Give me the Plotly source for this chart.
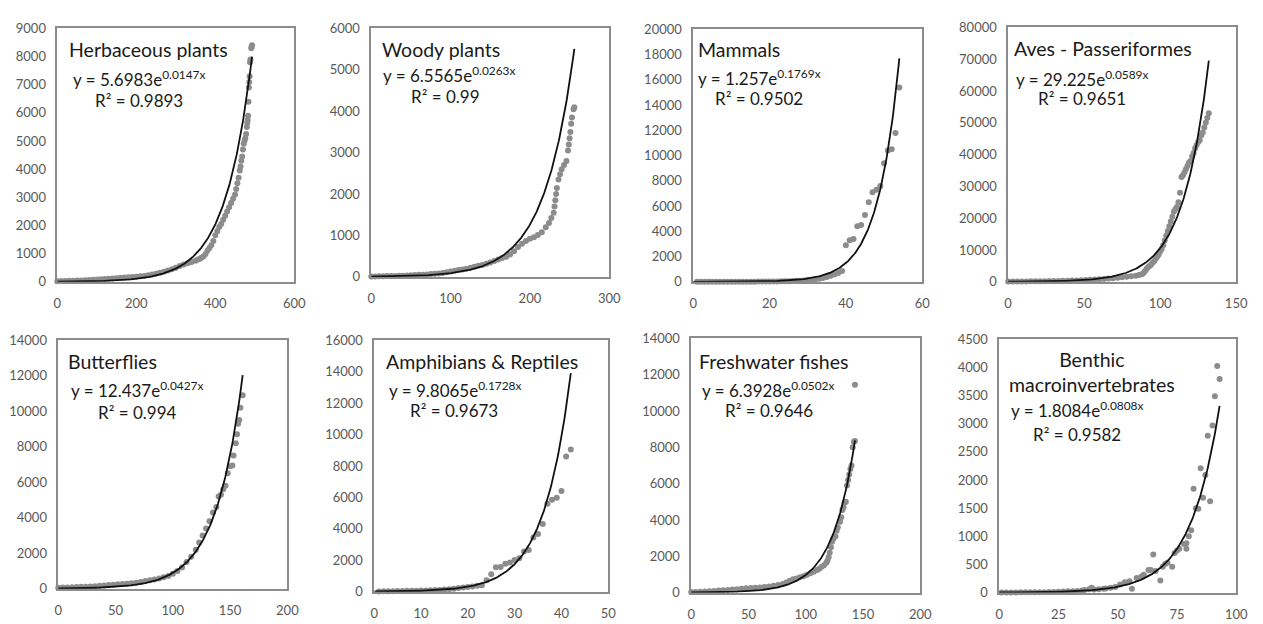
import numpy as np
import plotly.graph_objects as go

W, H = 1263, 624

# ---------------- data ----------------
titles = ["Herbaceous plants", "Woody plants", "Mammals", "Aves - Passeriformes",
          "Butterflies", "Amphibians & Reptiles", "Freshwater fishes", "Benthic<br>macroinvertebrates"]
coef_a = [5.6983, 6.5565, 1.257, 29.225, 12.437, 9.8065, 6.3928, 1.8084]
coef_a_txt = ["5.6983", "6.5565", "1.257", "29.225", "12.437", "9.8065", "6.3928", "1.8084"]
coef_b = [0.0147, 0.0263, 0.1769, 0.0589, 0.0427, 0.1728, 0.0502, 0.0808]
coef_b_txt = ["0.0147", "0.0263", "0.1769", "0.0589", "0.0427", "0.1728", "0.0502", "0.0808"]
r2_txt = ["0.9893", "0.99", "0.9502", "0.9651", "0.994", "0.9673", "0.9646", "0.9582"]
fit_xmax = [493, 256, 54, 132, 161, 42, 143, 93]
x_max = [600, 300, 60, 150, 200, 50, 200, 100]
x_dtick = [200, 100, 20, 50, 50, 10, 50, 25]
y_max = [9000, 6000, 20000, 80000, 14000, 16000, 14000, 4500]
y_dtick = [1000, 1000, 2000, 10000, 2000, 2000, 2000, 500]

herb_x = [0, 10, 20, 30, 40, 50, 60, 70, 80, 90, 100, 110, 120, 130, 140, 150, 160, 170, 180, 190,
          200, 210, 220, 230, 240, 250, 260, 270, 280, 290, 300, 310, 320, 330, 340, 350, 355, 360,
          365, 370, 375, 380, 385, 390, 395, 400, 405, 410, 415, 420, 425, 430, 435, 440, 445, 450,
          453, 456, 459, 462, 464, 466, 468, 470, 472, 474, 476, 478, 480, 481, 482, 483, 484, 485,
          486, 487, 488, 489, 491, 492, 493]
herb_y = [20, 25, 30, 35, 40, 45, 50, 55, 60, 70, 80, 90, 100, 110, 120, 130, 140, 150, 160, 170,
          180, 195, 210, 230, 260, 290, 320, 360, 400, 450, 500, 560, 610, 660, 700, 750, 780, 810,
          850, 900, 980, 1100, 1200, 1300, 1450, 1650, 1800, 1950, 2050, 2200, 2350, 2500, 2650,
          2800, 2950, 3100, 3300, 3500, 3700, 3950, 4100, 4300, 4450, 4700, 4900, 5000, 5100, 5250,
          5500, 5650, 5750, 5900, 6400, 6900, 7100, 7300, 7800, 7900, 8300, 8350, 8400]

woody_x = [0, 5, 10, 15, 20, 25, 30, 35, 40, 45, 50, 55, 60, 65, 70, 75, 80, 85, 90, 95, 100, 105,
           110, 115, 120, 125, 130, 135, 140, 145, 150, 155, 160, 165, 170, 175, 180, 185, 190, 195,
           200, 205, 210, 215, 220, 224, 227, 230, 231, 232, 233, 234, 236, 238, 240, 243, 246, 248,
           249, 250, 251, 252, 253, 255, 256]
woody_y = [10, 12, 15, 17, 20, 22, 25, 28, 30, 35, 40, 45, 50, 55, 60, 68, 75, 85, 95, 110, 130, 148,
           165, 182, 200, 222, 245, 268, 290, 320, 350, 385, 420, 455, 490, 540, 620, 720, 800, 870,
           920, 960, 1010, 1080, 1200, 1300, 1420, 1550, 1700, 1850, 2000, 2150, 2350, 2480, 2600,
           2700, 2800, 3050, 3200, 3350, 3500, 3700, 3850, 4050, 4100]

mam_x = list(range(1, 55))
mam_y = [1, 1, 1, 2, 2, 3, 3, 4, 4, 5, 6, 7, 8, 9, 10, 12, 14, 16, 19, 22, 26, 30, 36, 42, 50, 60,
         75, 90, 110, 140, 170, 200, 250, 300, 380, 470, 580, 700, 850, 2900, 3300, 3400, 4400,
         4500, 5300, 6300, 7100, 7300, 7600, 9400, 10400, 10500, 11800, 15400]

aves_x = [0, 3, 6, 9, 12, 15, 18, 21, 24, 27, 30, 33, 36, 39, 42, 45, 48, 51, 54, 57, 60, 63, 66,
          69, 72, 75, 78, 81, 84, 86, 88, 89, 90, 91, 92, 93, 94, 95, 96, 97, 98, 99, 100, 101,
          102, 103, 104, 105, 106, 107, 108, 109, 110, 111, 112, 113, 114, 115, 116, 117, 118, 119,
          120, 121, 122, 123, 124, 125, 126, 127, 128, 129, 130, 131, 132]
aves_y = [80, 90, 100, 110, 120, 140, 160, 180, 200, 220, 250, 280, 310, 350, 390, 440, 490, 550,
          620, 700, 800, 900, 1000, 1150, 1300, 1450, 1600, 1750, 1900, 2100, 2400, 2800, 3300,
          4000, 4600, 5000, 5400, 6000, 6500, 7200, 7900, 8500, 9500, 10300, 11500, 13000, 14500,
          16000, 17500, 19000, 20500, 22000, 22800, 23500, 25000, 28000, 33000, 33500, 34500,
          35500, 36500, 37500, 38000, 39500, 40500, 42000, 43000, 44000, 44500, 46000, 47000,
          48500, 50000, 51500, 53000]

but_x = [0, 4, 8, 12, 16, 20, 24, 28, 32, 36, 40, 44, 48, 52, 56, 60, 64, 68, 72, 76, 80, 84, 88,
         92, 96, 100, 104, 108, 112, 116, 120, 123, 126, 129, 132, 135, 138, 140, 142, 144, 146,
         148, 150, 152, 153, 155, 156, 157, 158, 159, 161]
but_y = [60, 65, 75, 85, 95, 105, 115, 130, 145, 165, 185, 205, 225, 245, 265, 285, 310, 340, 380,
         430, 480, 520, 580, 640, 720, 850, 1000, 1200, 1500, 1800, 2200, 2600, 3000, 3400, 3800,
         4300, 4600, 5200, 5300, 5600, 5800, 6500, 6900, 6950, 7500, 8200, 8700, 9300, 9500,
         10200, 10900]

amph_x = list(range(1, 43))
amph_y = [15, 20, 25, 30, 35, 40, 50, 55, 60, 70, 80, 90, 100, 110, 130, 150, 180, 230, 270, 300,
          330, 380, 400, 720, 1100, 1550, 1570, 1780, 1860, 2020, 2120, 2550, 2650, 3450, 3670,
          4300, 5600, 5850, 5980, 6400, 8600, 9050]

fish_x = [0, 4, 8, 12, 16, 20, 24, 28, 32, 36, 40, 44, 48, 52, 56, 60, 64, 68, 72, 76, 80, 83, 86,
          89, 92, 95, 98, 101, 104, 107, 110, 112, 114, 116, 118, 119, 120, 121, 122, 123, 124,
          126, 127, 128, 130, 131, 132, 133, 134, 135, 136, 137, 138, 139, 140, 141, 142, 143, 143]
fish_y = [30, 40, 50, 65, 80, 95, 110, 130, 150, 170, 190, 210, 235, 250, 265, 285, 310, 340, 380,
          420, 480, 560, 660, 730, 780, 840, 900, 980, 1060, 1150, 1250, 1320, 1420, 1500, 1650,
          1750, 1950, 2200, 2500, 2800, 2950, 3100, 3400, 3600, 3900, 4150, 4550, 4700, 4950,
          5000, 5900, 6200, 6500, 6800, 7000, 8000, 8300, 8350, 11450]

ben_x = [1, 3, 5, 7, 9, 11, 13, 15, 17, 19, 21, 23, 25, 27, 29, 31, 33, 35, 36, 38, 39, 40, 42, 44,
         45, 47, 49, 51, 53, 55, 56, 58, 60, 61, 63, 64, 65, 66, 68, 69, 70, 71, 73, 74, 75, 76,
         78, 79, 79, 80, 81, 82, 83, 84, 85, 86, 87, 88, 89, 90, 91, 92, 93]
ben_y = [2, 3, 3, 4, 5, 5, 6, 6, 7, 8, 10, 12, 14, 18, 22, 26, 30, 36, 46, 60, 87, 55, 58, 69, 75,
         87, 98, 144, 185, 200, 69, 260, 288, 317, 403, 403, 675, 385, 213, 460, 508, 530, 460,
         705, 750, 780, 865, 780, 877, 1000, 1107, 1845, 1500, 1490, 2210, 1685, 2090, 2785, 1625,
         2970, 3490, 4025, 3795]

xs = [herb_x, woody_x, mam_x, aves_x, but_x, amph_x, fish_x, ben_x]
ys = [herb_y, woody_y, mam_y, aves_y, but_y, amph_y, fish_y, ben_y]

# ---------------- layout geometry (pixels) ----------------
frames = [(54, 294, 21, 281), (372, 613, 21, 276), (698, 930, 22, 281), (1017, 1248, 20, 281),
          (55, 287, 341, 596), (375, 612, 341, 599), (696, 928, 339, 600), (1008, 1248, 340, 600)]
title_pos = [(64, 43), (381, 43), (701, 43), (1021, 42), (63, 363), (385, 363), (702, 363), (1102, 374)]
eq_pos = [(68, 72), (382, 68), (701, 71), (1023, 72), (66, 392), (388, 392), (705, 392), (1018, 412)]
r2_pos = [(90, 95), (410, 91), (718, 93), (1045, 93), (93, 415), (409, 413), (728, 413), (1040, 438)]

FONT = "Lato"
PT_COLOR = "#8c8c8c"
FRAME_COLOR = "#8c8c8c"
TICK_COLOR = "#595959"
TXT_COLOR = "#1a1a1a"


def px(x):
    return x / W


def py(y):
    return 1 - y / H


fig = go.Figure()
annotations = []
layout_axes = {}

for i in range(8):
    n = i + 1
    xa = "x" if n == 1 else f"x{n}"
    ya = "y" if n == 1 else f"y{n}"
    l, r, t, b = frames[i]

    fig.add_trace(go.Scatter(x=xs[i], y=ys[i], mode="markers", xaxis=xa, yaxis=ya,
                             marker=dict(color=PT_COLOR, size=6, line=dict(width=0)),
                             cliponaxis=False, showlegend=False, hoverinfo="x+y"))
    xf = np.linspace(0, fit_xmax[i], 300)
    yf = coef_a[i] * np.exp(coef_b[i] * xf)
    fig.add_trace(go.Scatter(x=xf, y=yf, mode="lines", xaxis=xa, yaxis=ya,
                             line=dict(color="#111111", width=1.8),
                             cliponaxis=False, showlegend=False, hoverinfo="skip"))

    kx = "xaxis" if n == 1 else f"xaxis{n}"
    ky = "yaxis" if n == 1 else f"yaxis{n}"
    layout_axes[kx] = dict(domain=[px(l), px(r)], anchor=ya, range=[0, x_max[i]],
                           dtick=x_dtick[i], tick0=0, showgrid=False, zeroline=False,
                           showline=True, mirror=True, linecolor=FRAME_COLOR, linewidth=1.5,
                           ticks="outside", ticklen=9, tickcolor="rgba(0,0,0,0)",
                           tickfont=dict(family=FONT, size=13, color=TICK_COLOR),
                           tickformat="d", fixedrange=True)
    layout_axes[ky] = dict(domain=[py(b), py(t)], anchor=xa, range=[0, y_max[i]],
                           dtick=y_dtick[i], tick0=0, showgrid=False, zeroline=False,
                           showline=True, mirror=True, linecolor=FRAME_COLOR, linewidth=1.5,
                           ticks="outside", ticklen=7, tickcolor="rgba(0,0,0,0)",
                           tickfont=dict(family=FONT, size=13, color=TICK_COLOR),
                           tickformat="d", fixedrange=True)

    tx, ty = title_pos[i]
    annotations.append(dict(x=px(tx), y=py(ty), xref="paper", yref="paper", text=titles[i],
                            showarrow=False, xanchor="center" if i == 7 else "left",
                            yanchor="middle", align="center",
                            font=dict(family=FONT, size=19.5, color=TXT_COLOR)))
    ex, ey = eq_pos[i]
    annotations.append(dict(x=px(ex), y=py(ey), xref="paper", yref="paper",
                            text=f"y = {coef_a_txt[i]}e<sup>{coef_b_txt[i]}x</sup>",
                            showarrow=False, xanchor="left", yanchor="middle",
                            font=dict(family=FONT, size=17, color=TXT_COLOR)))
    rx, ry = r2_pos[i]
    annotations.append(dict(x=px(rx), y=py(ry), xref="paper", yref="paper",
                            text=f"R² = {r2_txt[i]}",
                            showarrow=False, xanchor="left", yanchor="middle",
                            font=dict(family=FONT, size=17, color=TXT_COLOR)))

fig.update_layout(width=W, height=H, margin=dict(l=0, r=0, t=0, b=0),
                  paper_bgcolor="white", plot_bgcolor="white",
                  annotations=annotations, showlegend=False, **layout_axes)

fig.write_html("out.html", config={"displayModeBar": False},
               post_script="document.body.style.margin='0';document.body.style.overflow='hidden';")
